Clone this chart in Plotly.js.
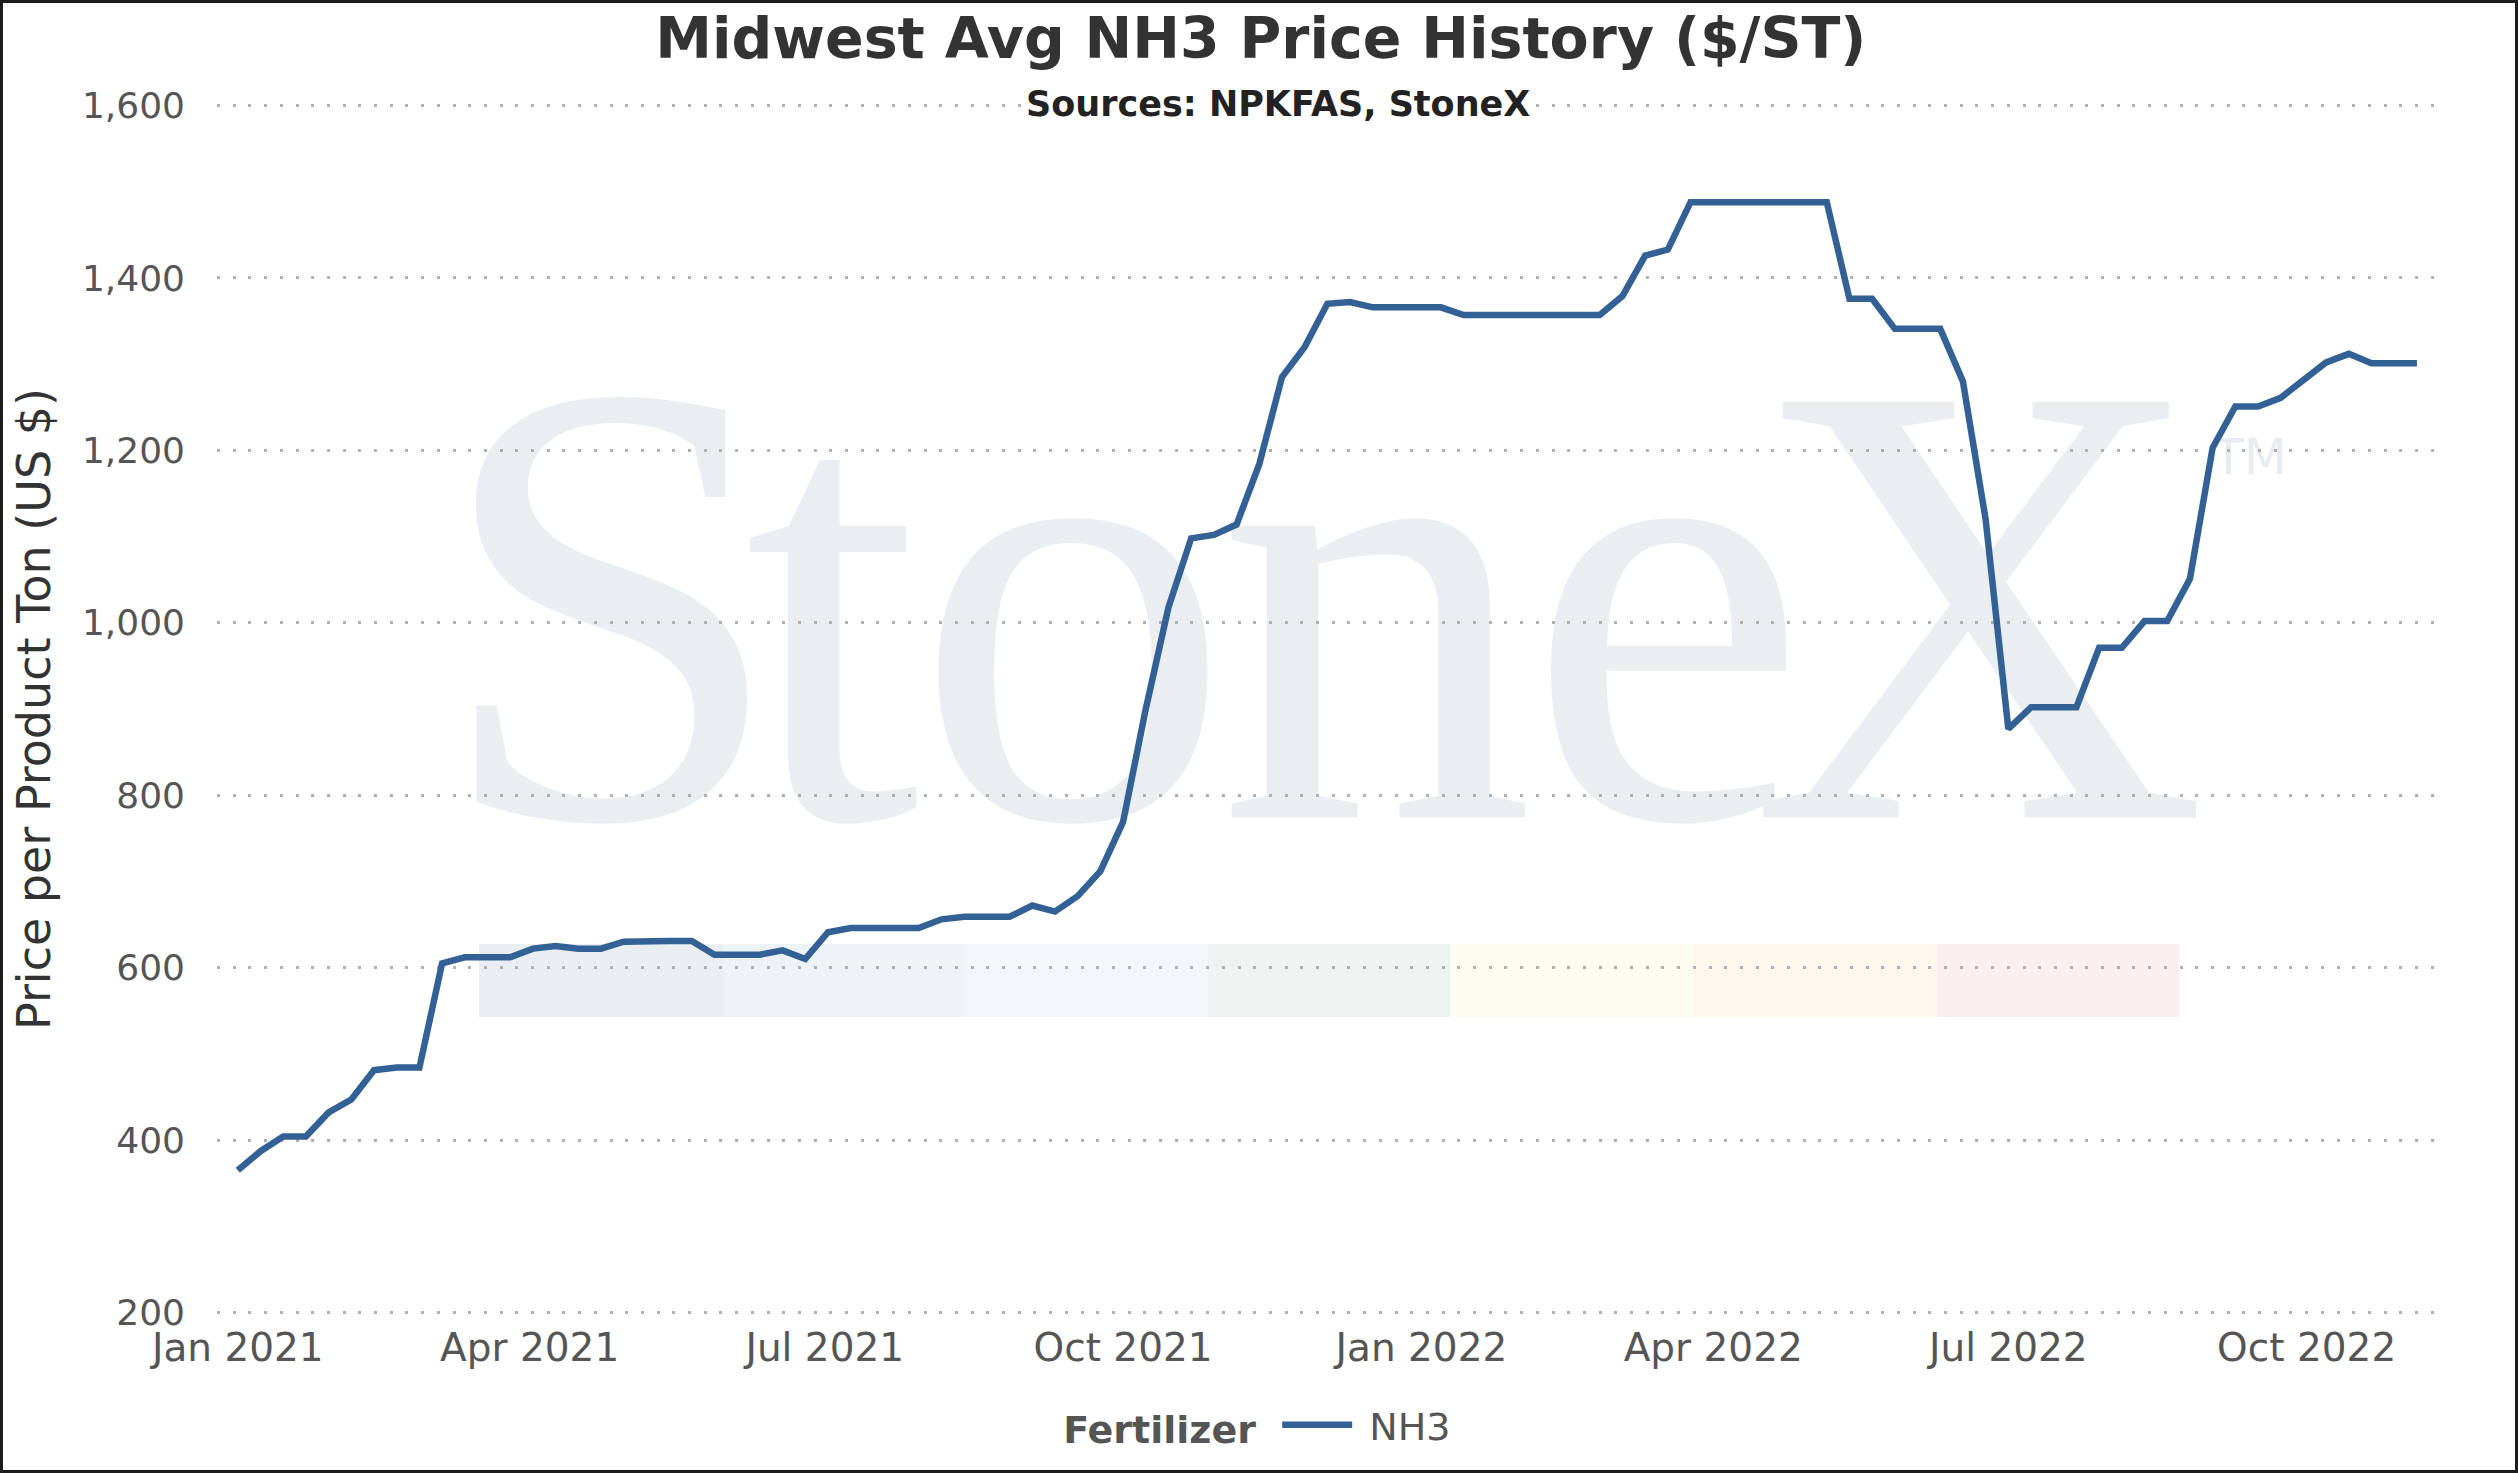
<!DOCTYPE html>
<html>
<head>
<meta charset="utf-8">
<script src="https://cdn.plot.ly/plotly-3.0.1.min.js"></script>
<style>
  html, body { margin: 0; padding: 0; background: #fff; }
  #chart { width: 2518px; height: 1473px; box-sizing: border-box; border: 3px solid #1c1c1c; }
</style>
</head>
<body>
<div id="chart"></div>
<script>
// weekly Midwest average NH3 price, $/short ton
const weeks = [
  "2021-01-01", "2021-01-08", "2021-01-15", "2021-01-22", "2021-01-29",
  "2021-02-05", "2021-02-12", "2021-02-19", "2021-02-26",
  "2021-03-05", "2021-03-12", "2021-03-19", "2021-03-26",
  "2021-04-02", "2021-04-09", "2021-04-16", "2021-04-23", "2021-04-30",
  "2021-05-07", "2021-05-14", "2021-05-21", "2021-05-28",
  "2021-06-04", "2021-06-11", "2021-06-18", "2021-06-25",
  "2021-07-02", "2021-07-09", "2021-07-16", "2021-07-23", "2021-07-30",
  "2021-08-06", "2021-08-13", "2021-08-20", "2021-08-27",
  "2021-09-03", "2021-09-10", "2021-09-17", "2021-09-24",
  "2021-10-01", "2021-10-08", "2021-10-15", "2021-10-22", "2021-10-29",
  "2021-11-05", "2021-11-12", "2021-11-19", "2021-11-26",
  "2021-12-03", "2021-12-10", "2021-12-17", "2021-12-24", "2021-12-31",
  "2022-01-07", "2022-01-14", "2022-01-21", "2022-01-28",
  "2022-02-04", "2022-02-11", "2022-02-18", "2022-02-25",
  "2022-03-04", "2022-03-11", "2022-03-18", "2022-03-25",
  "2022-04-01", "2022-04-08", "2022-04-15", "2022-04-22", "2022-04-29",
  "2022-05-06", "2022-05-13", "2022-05-20", "2022-05-27",
  "2022-06-03", "2022-06-10", "2022-06-17", "2022-06-24",
  "2022-07-01", "2022-07-08", "2022-07-15", "2022-07-22", "2022-07-29",
  "2022-08-05", "2022-08-12", "2022-08-19", "2022-08-26",
  "2022-09-02", "2022-09-09", "2022-09-16", "2022-09-23", "2022-09-30",
  "2022-10-07", "2022-10-14", "2022-10-21", "2022-10-28",
  "2022-11-04"
];

const nh3Prices = [
  365, 387, 404, 404, 432,
  447, 481, 484, 484,
  605, 612, 612, 612,
  622, 625, 622, 622, 630,
  631, 631, 631, 615,
  615, 615, 620, 610,
  641, 646, 646, 646, 646,
  656, 659, 659, 659,
  672, 665, 683, 712,
  769, 900, 1018, 1098, 1102,
  1114, 1184, 1285, 1320,
  1370, 1372, 1366, 1366, 1366,
  1366, 1357, 1357, 1357,
  1357, 1357, 1357, 1357,
  1379, 1426, 1433, 1488,
  1488, 1488, 1488, 1488, 1488,
  1488, 1376, 1376, 1341,
  1341, 1341, 1280, 1120,
  877, 902, 902, 902, 971,
  971, 1002, 1002, 1051,
  1203, 1251, 1251, 1261, 1281,
  1302, 1312, 1301, 1301,
  1301
];

const xTickVals = ["2021-01-01", "2021-04-01", "2021-07-01", "2021-10-01",
                   "2022-01-01", "2022-04-01", "2022-07-01", "2022-10-01"];
const xTickText = ["Jan 2021", "Apr 2021", "Jul 2021", "Oct 2021",
                   "Jan 2022", "Apr 2022", "Jul 2022", "Oct 2022"];
const yTickVals = [200, 400, 600, 800, 1000, 1200, 1400, 1600];

const FONT = "DejaVu Sans, Verdana, sans-serif";

// watermark: "StoneX" logo letters and the colour strip beneath them
const logoLetters = [
  ["S", 0.1769], ["t", 0.2769], ["o", 0.3854],
  ["n", 0.5218], ["e", 0.6529], ["X", 0.7930]
];
const stripColors = ["#e9eef2", "#edf2f5", "#f1f6f9", "#edf3f0",
                     "#fcfcf3", "#fcf8ee", "#f9eef0"];
const stripEdges = [0.1180, 0.2278, 0.3363, 0.4462, 0.5552, 0.6646, 0.7744, 0.8834];

const shapes = [];
stripColors.forEach((c, i) => {
  shapes.push({
    type: "rect", xref: "paper", yref: "paper", layer: "below",
    x0: stripEdges[i], x1: stripEdges[i + 1], y0: 0.2459, y1: 0.3061,
    fillcolor: c, line: {width: 0}
  });
});
logoLetters.forEach(([ch, cx]) => {
  shapes.push({
    type: "rect", xref: "paper", yref: "paper", layer: "below",
    x0: cx - 0.01, x1: cx + 0.01, y0: 0.6344, y1: 0.6544,
    fillcolor: "rgba(0,0,0,0)", line: {width: 0},
    label: {
      text: ch, textposition: "middle center",
      font: {family: "Liberation Serif, Times New Roman, serif", size: 635, color: "#ebeef1"}
    }
  });
});
shapes.push({
  type: "rect", xref: "paper", yref: "paper", layer: "below",
  x0: 0.9054, x1: 0.9254, y0: 0.701, y1: 0.721,
  fillcolor: "rgba(0,0,0,0)", line: {width: 0},
  label: {
    text: "TM", textposition: "middle center",
    font: {family: FONT, size: 50, color: "#e8ecf0"}
  }
});

const data = [{
  type: "scatter",
  mode: "lines",
  name: "\u00a0NH3",
  x: weeks,
  y: nh3Prices,
  line: {color: "#336196", width: 6.5},
  hovertemplate: "%{x|%b %d, %Y}<br>$%{y:,}<extra>NH3</extra>"
}];

const layout = {
  width: 2512,
  height: 1467,
  paper_bgcolor: "#ffffff",
  plot_bgcolor: "rgba(0,0,0,0)",
  margin: {l: 214, r: 77, t: 100, b: 155},
  font: {family: FONT, color: "#555555"},
  title: {
    text: "Midwest Avg NH3 Price History ($/ST)",
    font: {family: FONT, size: 57, color: "#333333", weight: "bold"},
    xref: "paper", x: 0.470, xanchor: "center",
    yref: "container", y: 0.976, yanchor: "middle"
  },
  annotations: [{
    text: "Sources: NPKFAS, StoneX",
    xref: "paper", yref: "paper", x: 0.4777, y: 0.9988,
    xanchor: "center", yanchor: "middle", showarrow: false,
    bgcolor: "#ffffff",
    font: {family: FONT, size: 35, color: "#222222", weight: "bold"}
  }],
  xaxis: {
    type: "date",
    range: ["2020-12-25 14:00", "2022-11-10 12:00"],
    tickvals: xTickVals,
    ticktext: xTickText,
    showgrid: false,
    zeroline: false,
    showline: false,
    ticks: "",
    ticklabelstandoff: 6,
    tickfont: {family: FONT, size: 39, color: "#555555"}
  },
  yaxis: {
    range: [197, 1603],
    tickvals: yTickVals,
    tickformat: ",d",
    showgrid: true,
    gridcolor: "#b0b0b0",
    gridwidth: 3,
    griddash: "3px,12.7px",
    zeroline: false,
    showline: false,
    ticks: "",
    ticklabelstandoff: 31,
    tickfont: {family: FONT, size: 36, color: "#555555"},
    title: {
      text: "Price per Product Ton (US $)",
      standoff: 16,
      font: {family: FONT, size: 46, color: "#333333"}
    }
  },
  showlegend: true,
  legend: {
    orientation: "h",
    x: 0.469, xanchor: "center",
    y: -0.0908, yanchor: "middle",
    itemwidth: 70,
    title: {text: "Fertilizer\u00a0", side: "left",
            font: {family: FONT, size: 38, color: "#555555", weight: "bold"}},
    font: {family: FONT, size: 38, color: "#555555"}
  },
  shapes: shapes
};

Plotly.newPlot("chart", data, layout, {displayModeBar: false, responsive: false});
</script>
</body>
</html>
